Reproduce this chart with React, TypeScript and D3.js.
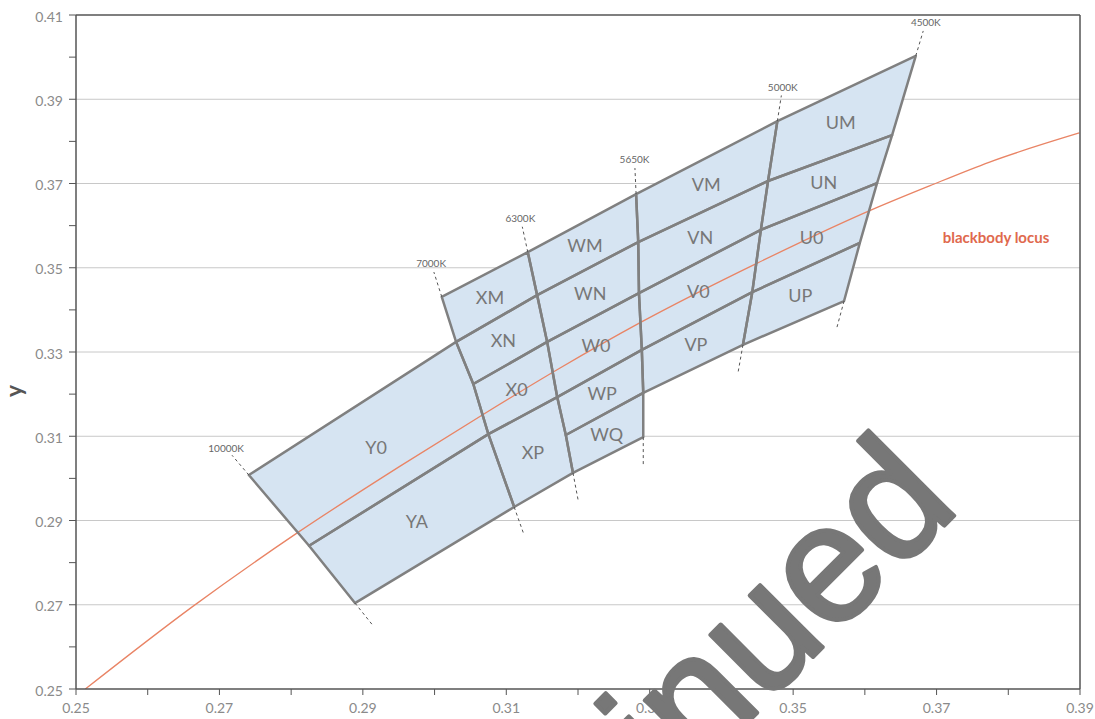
import React from 'react';
import * as d3 from 'd3';

const W = 1095;
const H = 719;

// axis ticks
const xMajorTicks = [0.25, 0.27, 0.29, 0.31, 0.33, 0.35, 0.37, 0.39];
const xMinorTicks = [0.26, 0.28, 0.3, 0.32, 0.34, 0.36, 0.38];
const yMajorTicks = [0.25, 0.27, 0.29, 0.31, 0.33, 0.35, 0.37, 0.39, 0.41];
const yMinorTicks = [0.26, 0.28, 0.3, 0.32, 0.34, 0.36, 0.38, 0.4];

// CCT boundary lines (nodes from top to bottom), CIE x,y
const cctLabels = ['10000K', '7000K', '6300K', '5650K', '5000K', '4500K'];
const cct10000: [number, number][] = [[0.2741, 0.3008], [0.2825, 0.2840], [0.2889, 0.2704]];
const cct7000: [number, number][] = [[0.3010, 0.3431], [0.3030, 0.3324], [0.3054, 0.3224], [0.3075, 0.3105], [0.3111, 0.2932]];
const cct6300: [number, number][] = [[0.3130, 0.3537], [0.3143, 0.3435], [0.3157, 0.3324], [0.3171, 0.3193], [0.3183, 0.3103], [0.3193, 0.3013]];
const cct5650: [number, number][] = [[0.3281, 0.3675], [0.3284, 0.3561], [0.3285, 0.3440], [0.3289, 0.3305], [0.3291, 0.3203], [0.3291, 0.3098]];
const cct5000: [number, number][] = [[0.3478, 0.3848], [0.3465, 0.3706], [0.3455, 0.3590], [0.3443, 0.3442], [0.3430, 0.3317]];
const cct4500: [number, number][] = [[0.3671, 0.4003], [0.3638, 0.3815], [0.3617, 0.3701], [0.3593, 0.3559], [0.3571, 0.3421]];
const cctLines = [cct10000, cct7000, cct6300, cct5650, cct5000, cct4500];

// bins: corners given as [cct line index, node index]
const binNames = ['Y0', 'YA', 'XM', 'XN', 'X0', 'XP', 'WM', 'WN', 'W0', 'WP', 'WQ', 'VM', 'VN', 'V0', 'VP', 'UM', 'UN', 'U0', 'UP'];
const binCorners: [number, number][][] = [
  [[0, 0], [1, 1], [1, 2], [1, 3], [0, 1]],
  [[0, 1], [1, 3], [1, 4], [0, 2]],
  [[1, 0], [2, 0], [2, 1], [1, 1]],
  [[1, 1], [2, 1], [2, 2], [1, 2]],
  [[1, 2], [2, 2], [2, 3], [1, 3]],
  [[1, 3], [2, 3], [2, 4], [2, 5], [1, 4]],
  [[2, 0], [3, 0], [3, 1], [2, 1]],
  [[2, 1], [3, 1], [3, 2], [2, 2]],
  [[2, 2], [3, 2], [3, 3], [2, 3]],
  [[2, 3], [3, 3], [3, 4], [2, 4]],
  [[2, 4], [3, 4], [3, 5], [2, 5]],
  [[3, 0], [4, 0], [4, 1], [3, 1]],
  [[3, 1], [4, 1], [4, 2], [3, 2]],
  [[3, 2], [4, 2], [4, 3], [3, 3]],
  [[3, 3], [4, 3], [4, 4], [3, 4]],
  [[4, 0], [5, 0], [5, 1], [4, 1]],
  [[4, 1], [5, 1], [5, 2], [4, 2]],
  [[4, 2], [5, 2], [5, 3], [4, 3]],
  [[4, 3], [5, 3], [5, 4], [4, 4]],
];

// blackbody locus
const locusX = [0.2513, 0.2662, 0.2808, 0.2952, 0.3066, 0.3175, 0.3286, 0.3450, 0.3610, 0.3691, 0.3774, 0.3899];
const locusY = [0.2500, 0.2695, 0.2870, 0.3029, 0.3150, 0.3262, 0.3369, 0.3511, 0.3638, 0.3695, 0.3751, 0.3820];

const FONT = 'Lato, "Open Sans", sans-serif';

export default function App() {
  const x = d3.scaleLinear().domain([0.25, 0.39]).range([76, 1080]);
  const y = d3.scaleLinear().domain([0.25, 0.41]).range([689, 15]);
  const px = (p: [number, number]): [number, number] => [x(p[0]), y(p[1])];

  const line = d3.line<[number, number]>().x((d) => d[0]).y((d) => d[1]);
  const locusPts: [number, number][] = locusX.map((v, i) => [x(v), y(locusY[i])]);
  const locusPath = d3.line<[number, number]>().x((d) => d[0]).y((d) => d[1]).curve(d3.curveMonotoneX)(locusPts) || '';

  const bins = binNames.map((name, i) => {
    const pts = binCorners[i].map(([l, n]) => px(cctLines[l][n]));
    const c = d3.polygonCentroid(pts);
    return { name, pts, c };
  });

  const ext = cctLines.map((ln, i) => {
    const p0 = px(ln[0]);
    const p1 = px(ln[1]);
    let dx = p0[0] - p1[0], dy = p0[1] - p1[1];
    let len = Math.hypot(dx, dy);
    const dt = [dx / len, dy / len];
    const pl = px(ln[ln.length - 1]);
    const pp = px(ln[ln.length - 2]);
    dx = pl[0] - pp[0]; dy = pl[1] - pp[1];
    len = Math.hypot(dx, dy);
    const db = [dx / len, dy / len];
    return {
      label: cctLabels[i],
      top: [p0, [p0[0] + dt[0] * 26, p0[1] + dt[1] * 26]] as [number, number][],
      bottom: [pl, [pl[0] + db[0] * 27, pl[1] + db[1] * 27]] as [number, number][],
      lp: [p0[0] + dt[0] * 35, p0[1] + dt[1] * 35],
    };
  });

  const x0 = 76, x1 = 1080, y0 = 689, y1 = 15;
  const axisColor = '#555';
  const tickText = '#8a8a8a';

  return (
    <svg width={W} height={H} style={{ position: 'absolute', left: 0, top: 0, background: '#fff' }}>
      <defs>
        <clipPath id="plot">
          <rect x={x0} y={y1} width={x1 - x0} height={y0 - y1} />
        </clipPath>
      </defs>
      {/* grid */}
      {yMajorTicks.filter((t) => t > 0.26 && t < 0.40).map((t) => (
        <line key={'g' + t} x1={x0} x2={x1} y1={y(t)} y2={y(t)} stroke="#c8c8c8" strokeWidth={1} />
      ))}
      {/* bins */}
      <g>
        {bins.map((b) => (
          <path key={b.name} d={line(b.pts)! + 'Z'} fill="#d6e4f2" stroke="none" />
        ))}
      </g>
      {/* locus */}
      <path d={locusPath} fill="none" stroke="#e98465" strokeWidth={1.3} clipPath="url(#plot)" />
      <g>
        {bins.map((b) => (
          <path key={'s' + b.name} d={line(b.pts)! + 'Z'} fill="none" stroke="#808080" strokeWidth={2.5} strokeLinejoin="round" />
        ))}
      </g>
      {/* dashed extensions & CCT labels */}
      {ext.map((e) => (
        <g key={e.label}>
          <path d={line(e.top)!} stroke="#555" strokeWidth={1} strokeDasharray="3,3" fill="none" />
          <path d={line(e.bottom)!} stroke="#555" strokeWidth={1} strokeDasharray="3,3" fill="none" />
          <text x={e.lp[0]} y={e.lp[1]} textAnchor="middle" dominantBaseline="central" fontSize={10} fill="#666" fontFamily={FONT}>
            {e.label}
          </text>
        </g>
      ))}
      {/* bin labels */}
      {bins.map((b) => (
        <text key={'t' + b.name} x={b.c[0]} y={b.c[1]} textAnchor="middle" dominantBaseline="central" fontSize={18} fill="#777" fontFamily={FONT}>
          {b.name}
        </text>
      ))}
      {/* locus label */}
      <text x={996} y={243} textAnchor="middle" fontSize={15} fontWeight={700} fill="#e0694d" fontFamily={FONT}>
        blackbody locus
      </text>
      {/* frame */}
      <line x1={x0} x2={x1} y1={y1} y2={y1} stroke={axisColor} strokeWidth={1.5} />
      <line x1={x1} x2={x1} y1={y1} y2={y0} stroke={axisColor} strokeWidth={1.5} />
      <line x1={x0} x2={x1} y1={y0} y2={y0} stroke={axisColor} strokeWidth={1.5} />
      <line x1={x0} x2={x0} y1={y1} y2={y0} stroke={axisColor} strokeWidth={1.5} />
      {/* x ticks */}
      {[...xMajorTicks, ...xMinorTicks].map((t) => (
        <line key={'xt' + t} x1={x(t)} x2={x(t)} y1={y0} y2={y0 + 6} stroke={axisColor} strokeWidth={1} />
      ))}
      {xMajorTicks.map((t) => (
        <text key={'xl' + t} x={x(t)} y={713} textAnchor="middle" fontSize={14} fill={tickText} fontFamily={FONT}>
          {t.toFixed(2)}
        </text>
      ))}
      {/* y ticks */}
      {[...yMajorTicks, ...yMinorTicks].map((t) => (
        <line key={'yt' + t} x1={x0 - 7} x2={x0} y1={y(t)} y2={y(t)} stroke={axisColor} strokeWidth={1} />
      ))}
      {yMajorTicks.map((t) => (
        <text key={'yl' + t} x={x0 - 13} y={y(t) + 1} textAnchor="end" dominantBaseline="central" fontSize={14} fill={tickText} fontFamily={FONT}>
          {t.toFixed(2)}
        </text>
      ))}
      <text x={22} y={391} transform="rotate(-90,22,391)" textAnchor="middle" fontSize={23} fontWeight={700} fill="#555" fontFamily={FONT}>
        y
      </text>
      {/* watermark */}
      <text x={962} y={508} transform="rotate(-45,962,508)" textAnchor="end" fontSize={167} fontWeight={400} fill="#777" stroke="#777" strokeWidth={4} strokeLinejoin="round" fontFamily='"Liberation Sans", Arial, sans-serif'>
        Discontinued
      </text>
    </svg>
  );
}
